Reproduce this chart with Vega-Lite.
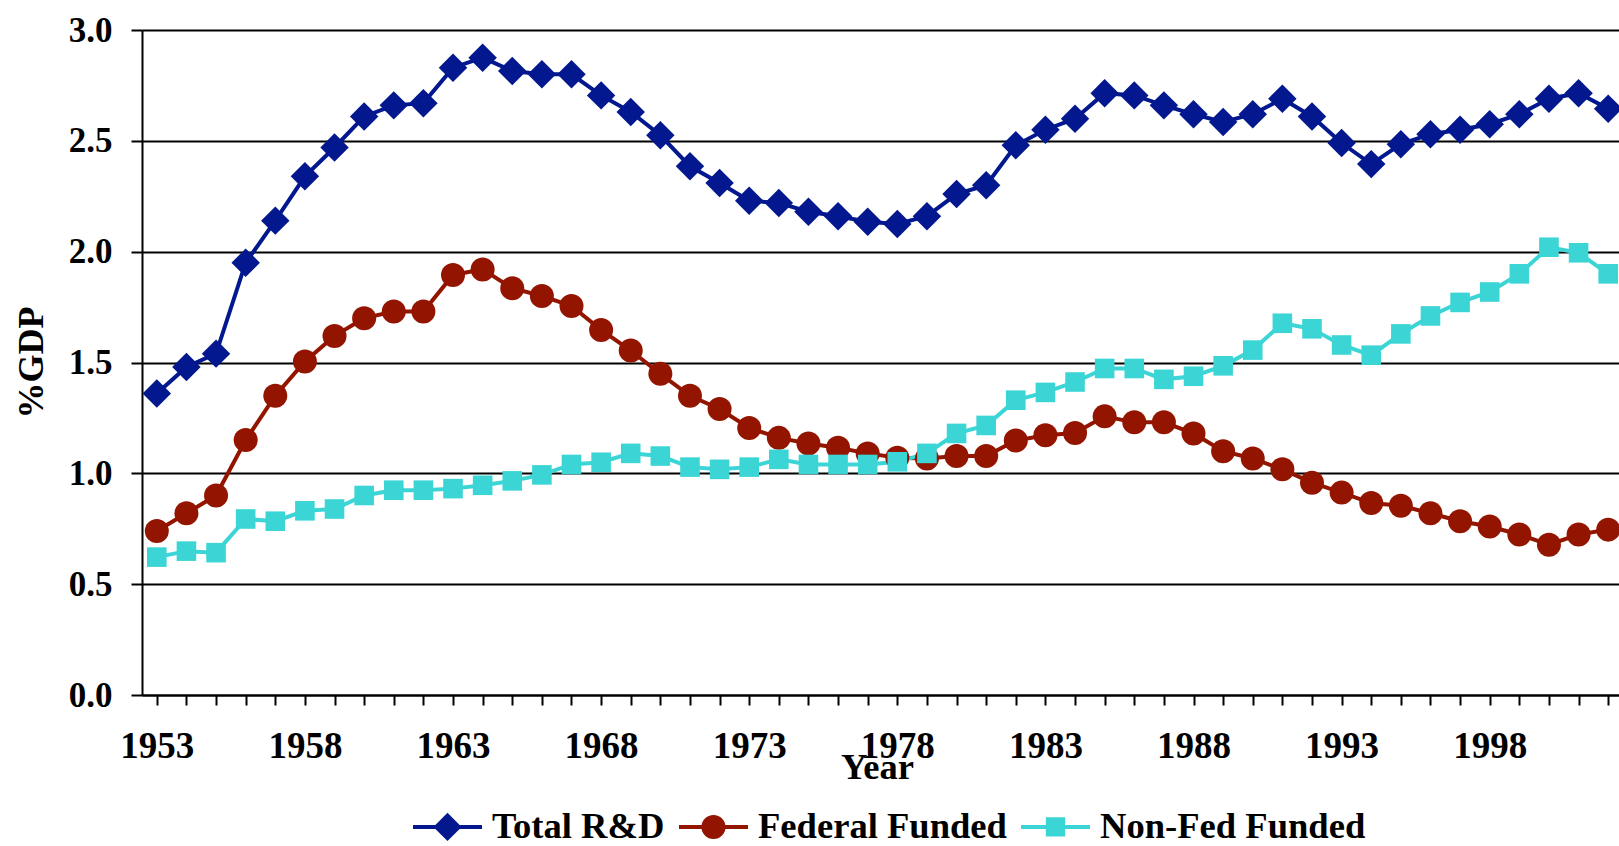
{
  "$schema": "https://vega.github.io/schema/vega-lite/v6.json",
  "width": 1481,
  "height": 665,
  "autosize": {"type": "none"},
  "padding": {"left": 142, "top": 30, "right": 0, "bottom": 151},
  "background": "white",
  "config": {"view": {"stroke": null}, "font": "Liberation Serif"},
  "data": {"values": [
    {"year":1953,"series":"Total R&D","value":1.36},{"year":1954,"series":"Total R&D","value":1.48},{"year":1955,"series":"Total R&D","value":1.54},{"year":1956,"series":"Total R&D","value":1.95},{"year":1957,"series":"Total R&D","value":2.14},{"year":1958,"series":"Total R&D","value":2.34},{"year":1959,"series":"Total R&D","value":2.47},{"year":1960,"series":"Total R&D","value":2.61},{"year":1961,"series":"Total R&D","value":2.66},{"year":1962,"series":"Total R&D","value":2.67},
    {"year":1963,"series":"Total R&D","value":2.83},{"year":1964,"series":"Total R&D","value":2.875},{"year":1965,"series":"Total R&D","value":2.815},{"year":1966,"series":"Total R&D","value":2.8},{"year":1967,"series":"Total R&D","value":2.8},{"year":1968,"series":"Total R&D","value":2.705},{"year":1969,"series":"Total R&D","value":2.63},{"year":1970,"series":"Total R&D","value":2.525},{"year":1971,"series":"Total R&D","value":2.385},{"year":1972,"series":"Total R&D","value":2.31},
    {"year":1973,"series":"Total R&D","value":2.23},{"year":1974,"series":"Total R&D","value":2.22},{"year":1975,"series":"Total R&D","value":2.18},{"year":1976,"series":"Total R&D","value":2.16},{"year":1977,"series":"Total R&D","value":2.135},{"year":1978,"series":"Total R&D","value":2.125},{"year":1979,"series":"Total R&D","value":2.16},{"year":1980,"series":"Total R&D","value":2.26},{"year":1981,"series":"Total R&D","value":2.3},{"year":1982,"series":"Total R&D","value":2.48},
    {"year":1983,"series":"Total R&D","value":2.55},{"year":1984,"series":"Total R&D","value":2.6},{"year":1985,"series":"Total R&D","value":2.715},{"year":1986,"series":"Total R&D","value":2.705},{"year":1987,"series":"Total R&D","value":2.66},{"year":1988,"series":"Total R&D","value":2.62},{"year":1989,"series":"Total R&D","value":2.585},{"year":1990,"series":"Total R&D","value":2.62},{"year":1991,"series":"Total R&D","value":2.69},{"year":1992,"series":"Total R&D","value":2.61},
    {"year":1993,"series":"Total R&D","value":2.49},{"year":1994,"series":"Total R&D","value":2.395},{"year":1995,"series":"Total R&D","value":2.485},{"year":1996,"series":"Total R&D","value":2.53},{"year":1997,"series":"Total R&D","value":2.55},{"year":1998,"series":"Total R&D","value":2.575},{"year":1999,"series":"Total R&D","value":2.62},{"year":2000,"series":"Total R&D","value":2.69},{"year":2001,"series":"Total R&D","value":2.715},{"year":2002,"series":"Total R&D","value":2.645},
    {"year":1953,"series":"Federal Funded","value":0.74},{"year":1954,"series":"Federal Funded","value":0.82},{"year":1955,"series":"Federal Funded","value":0.9},{"year":1956,"series":"Federal Funded","value":1.15},{"year":1957,"series":"Federal Funded","value":1.35},{"year":1958,"series":"Federal Funded","value":1.505},{"year":1959,"series":"Federal Funded","value":1.62},{"year":1960,"series":"Federal Funded","value":1.7},{"year":1961,"series":"Federal Funded","value":1.73},{"year":1962,"series":"Federal Funded","value":1.73},
    {"year":1963,"series":"Federal Funded","value":1.895},{"year":1964,"series":"Federal Funded","value":1.92},{"year":1965,"series":"Federal Funded","value":1.835},{"year":1966,"series":"Federal Funded","value":1.8},{"year":1967,"series":"Federal Funded","value":1.755},{"year":1968,"series":"Federal Funded","value":1.647},{"year":1969,"series":"Federal Funded","value":1.554},{"year":1970,"series":"Federal Funded","value":1.449},{"year":1971,"series":"Federal Funded","value":1.35},{"year":1972,"series":"Federal Funded","value":1.29},
    {"year":1973,"series":"Federal Funded","value":1.205},{"year":1974,"series":"Federal Funded","value":1.16},{"year":1975,"series":"Federal Funded","value":1.135},{"year":1976,"series":"Federal Funded","value":1.115},{"year":1977,"series":"Federal Funded","value":1.09},{"year":1978,"series":"Federal Funded","value":1.07},{"year":1979,"series":"Federal Funded","value":1.067},{"year":1980,"series":"Federal Funded","value":1.078},{"year":1981,"series":"Federal Funded","value":1.078},{"year":1982,"series":"Federal Funded","value":1.148},
    {"year":1983,"series":"Federal Funded","value":1.172},{"year":1984,"series":"Federal Funded","value":1.182},{"year":1985,"series":"Federal Funded","value":1.257},{"year":1986,"series":"Federal Funded","value":1.23},{"year":1987,"series":"Federal Funded","value":1.23},{"year":1988,"series":"Federal Funded","value":1.18},{"year":1989,"series":"Federal Funded","value":1.1},{"year":1990,"series":"Federal Funded","value":1.067},{"year":1991,"series":"Federal Funded","value":1.018},{"year":1992,"series":"Federal Funded","value":0.958},
    {"year":1993,"series":"Federal Funded","value":0.913},{"year":1994,"series":"Federal Funded","value":0.866},{"year":1995,"series":"Federal Funded","value":0.854},{"year":1996,"series":"Federal Funded","value":0.82},{"year":1997,"series":"Federal Funded","value":0.784},{"year":1998,"series":"Federal Funded","value":0.76},{"year":1999,"series":"Federal Funded","value":0.724},{"year":2000,"series":"Federal Funded","value":0.678},{"year":2001,"series":"Federal Funded","value":0.724},{"year":2002,"series":"Federal Funded","value":0.746},
    {"year":1953,"series":"Non-Fed Funded","value":0.622},{"year":1954,"series":"Non-Fed Funded","value":0.649},{"year":1955,"series":"Non-Fed Funded","value":0.642},{"year":1956,"series":"Non-Fed Funded","value":0.794},{"year":1957,"series":"Non-Fed Funded","value":0.784},{"year":1958,"series":"Non-Fed Funded","value":0.831},{"year":1959,"series":"Non-Fed Funded","value":0.839},{"year":1960,"series":"Non-Fed Funded","value":0.9},{"year":1961,"series":"Non-Fed Funded","value":0.924},{"year":1962,"series":"Non-Fed Funded","value":0.924},
    {"year":1963,"series":"Non-Fed Funded","value":0.931},{"year":1964,"series":"Non-Fed Funded","value":0.946},{"year":1965,"series":"Non-Fed Funded","value":0.966},{"year":1966,"series":"Non-Fed Funded","value":0.993},{"year":1967,"series":"Non-Fed Funded","value":1.04},{"year":1968,"series":"Non-Fed Funded","value":1.05},{"year":1969,"series":"Non-Fed Funded","value":1.09},{"year":1970,"series":"Non-Fed Funded","value":1.078},{"year":1971,"series":"Non-Fed Funded","value":1.028},{"year":1972,"series":"Non-Fed Funded","value":1.018},
    {"year":1973,"series":"Non-Fed Funded","value":1.028},{"year":1974,"series":"Non-Fed Funded","value":1.063},{"year":1975,"series":"Non-Fed Funded","value":1.04},{"year":1976,"series":"Non-Fed Funded","value":1.04},{"year":1977,"series":"Non-Fed Funded","value":1.04},{"year":1978,"series":"Non-Fed Funded","value":1.052},{"year":1979,"series":"Non-Fed Funded","value":1.09},{"year":1980,"series":"Non-Fed Funded","value":1.18},{"year":1981,"series":"Non-Fed Funded","value":1.216},{"year":1982,"series":"Non-Fed Funded","value":1.33},
    {"year":1983,"series":"Non-Fed Funded","value":1.365},{"year":1984,"series":"Non-Fed Funded","value":1.412},{"year":1985,"series":"Non-Fed Funded","value":1.473},{"year":1986,"series":"Non-Fed Funded","value":1.473},{"year":1987,"series":"Non-Fed Funded","value":1.424},{"year":1988,"series":"Non-Fed Funded","value":1.438},{"year":1989,"series":"Non-Fed Funded","value":1.485},{"year":1990,"series":"Non-Fed Funded","value":1.556},{"year":1991,"series":"Non-Fed Funded","value":1.677},{"year":1992,"series":"Non-Fed Funded","value":1.652},
    {"year":1993,"series":"Non-Fed Funded","value":1.579},{"year":1994,"series":"Non-Fed Funded","value":1.533},{"year":1995,"series":"Non-Fed Funded","value":1.629},{"year":1996,"series":"Non-Fed Funded","value":1.71},{"year":1997,"series":"Non-Fed Funded","value":1.771},{"year":1998,"series":"Non-Fed Funded","value":1.818},{"year":1999,"series":"Non-Fed Funded","value":1.9},{"year":2000,"series":"Non-Fed Funded","value":2.02},{"year":2001,"series":"Non-Fed Funded","value":1.995},{"year":2002,"series":"Non-Fed Funded","value":1.9}
  ]},
  "encoding": {
    "x": {
      "field": "year", "type": "ordinal",
      "scale": {"paddingInner": 0, "paddingOuter": 0},
      "axis": {
        "title": "Year", "titleFont": "Liberation Serif", "titleFontSize": 36.5, "titleFontWeight": "bold", "titleColor": "black",
        "titleBaseline": "alphabetic", "titleY": 83, "titleX": 735, "titleAlign": "center",
        "bandPosition": 0,
        "labelExpr": "(datum.value - 1953) % 5 === 0 ? datum.label : ''",
        "labelAngle": 0, "labelPadding": 23, "labelOverlap": false, "labelBound": false,
        "labelFont": "Liberation Serif", "labelFontSize": 37, "labelFontWeight": "bold", "labelColor": "black",
        "tickSize": 10, "tickWidth": 2, "tickColor": "black",
        "domainColor": "black", "domainWidth": 2, "grid": false
      }
    },
    "y": {
      "field": "value", "type": "quantitative",
      "scale": {"domain": [0, 3], "nice": false},
      "axis": {
        "title": "%GDP", "titleFont": "Liberation Serif", "titleFontSize": 36, "titleFontWeight": "bold", "titleColor": "black",
        "titleAngle": 270, "titleBaseline": "alphabetic", "titleX": -100, "titleY": 332, "titleAlign": "center",
        "values": [0, 0.5, 1, 1.5, 2, 2.5, 3], "format": ".1f",
        "labelFont": "Liberation Serif", "labelFontSize": 35, "labelFontWeight": "bold", "labelColor": "black",
        "labelPadding": 19, "labelOverlap": false,
        "tickSize": 11, "tickWidth": 2, "tickColor": "black",
        "domainColor": "black", "domainWidth": 2,
        "grid": true, "gridColor": "black", "gridWidth": 2
      }
    },
    "color": {
      "field": "series", "type": "nominal",
      "scale": {"domain": ["Total R&D", "Federal Funded", "Non-Fed Funded"], "range": ["#03188F", "#931500", "#3CD5D6"]},
      "legend": {
        "orient": "none", "legendX": 271, "legendY": 762, "direction": "horizontal", "columns": 3,
        "title": null, "padding": 0, "symbolSize": 4761, "symbolStrokeWidth": 0,
        "labelFont": "Liberation Serif", "labelFontSize": 36.6, "labelFontWeight": "bold", "labelColor": "black",
        "labelOffset": 10, "columnPadding": 14, "labelLimit": 400,
        "encode": {
          "symbols": {
            "update": {
              "shape": {"signal": "datum.value === 'Total R&D' ? 'M-1,-0.058L1,-0.058L1,0.058L-1,0.058Z M0,-0.41L0.41,0L0,0.41L-0.41,0Z' : datum.value === 'Federal Funded' ? 'M-1,-0.058L1,-0.058L1,0.058L-1,0.058Z M-0.35,0A0.35,0.35 0 1,1 0.35,0A0.35,0.35 0 1,1 -0.35,0Z' : 'M-1,-0.058L1,-0.058L1,0.058L-1,0.058Z M-0.28,-0.28L0.28,-0.28L0.28,0.28L-0.28,0.28Z'"},
              "fill": {"signal": "datum.value === 'Total R&D' ? '#03188F' : datum.value === 'Federal Funded' ? '#931500' : '#3CD5D6'"},
              "stroke": {"value": "transparent"},
              "strokeWidth": {"value": 0},
              "opacity": {"value": 1},
              "size": {"value": 4761}
            }
          }
        }
      }
    }
  },
  "layer": [
    {"mark": {"type": "line", "strokeWidth": 4}},
    {
      "transform": [{"filter": "datum.series === 'Total R&D'"}],
      "mark": {"type": "point", "filled": true, "opacity": 1, "strokeWidth": 0, "shape": "diamond", "size": 810}
    },
    {
      "transform": [{"filter": "datum.series === 'Federal Funded'"}],
      "mark": {"type": "point", "filled": true, "opacity": 1, "strokeWidth": 0, "shape": "circle", "size": 576}
    },
    {
      "transform": [{"filter": "datum.series === 'Non-Fed Funded'"}],
      "mark": {"type": "point", "filled": true, "opacity": 1, "strokeWidth": 0, "shape": "square", "size": 384}
    }
  ]
}
